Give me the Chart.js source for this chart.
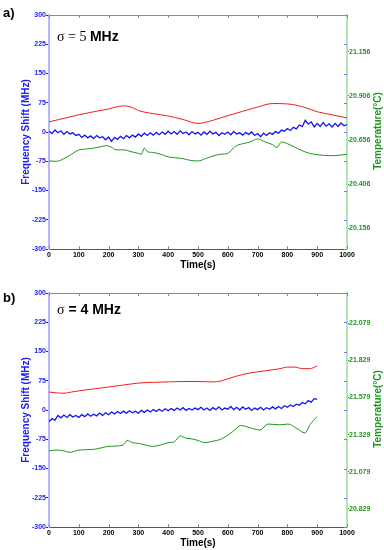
<!DOCTYPE html>
<html>
<head>
<meta charset="utf-8">
<script src="https://cdn.jsdelivr.net/npm/chart.js@4"></script>
<style>
body{margin:0;background:#fff;}
#wrap{position:relative;width:384px;height:550px;font-family:"Liberation Sans",Arial,sans-serif;}
.panel{position:absolute;left:0;width:384px;height:272px;}
.tag{position:absolute;left:3px;font-weight:bold;font-size:13px;line-height:13px;}
.sig{position:absolute;left:57px;font-size:14px;line-height:14px;white-space:nowrap;}
.sig .g{font-family:"Liberation Serif","Times New Roman",serif;}
.sig b{font-family:"Liberation Sans",Arial,sans-serif;}
.ytitle2{position:absolute;left:378px;color:#1e961e;font-weight:bold;font-size:10px;line-height:10px;
  transform:translate(-50%,-50%) rotate(-90deg);white-space:nowrap;}
</style>
</head>
<body>
<div id="wrap">
  <canvas id="chartA" class="panel" style="top:0" width="384" height="272"></canvas>
  <canvas id="chartB" class="panel" style="top:278px" width="384" height="272"></canvas>
  <div class="tag" style="top:6px">a)</div>
  <div class="tag" style="top:291px">b)</div>
  <div class="sig" style="top:29px"><span class="g">σ = 5 </span><b>MHz</b></div>
  <div class="sig" style="top:302px"><span class="g">σ</span><b> = 4 MHz</b></div>
  <div class="ytitle2" style="top:131px">Temperature(°C)</div>
  <div class="ytitle2" style="top:409px">Temperature(°C)</div>
</div>
<script>
// panel a
var tRedA = [0,50,100,150,200,225,250,275,300,350,400,450,500,550,600,650,700,750,800,850,900,950,1000];
var redA  = [26,35,44,52,59,64,67,64,55,47,41,32,22,30,42,53,64,73,72,65,52,44,36];

// blue sampled every 10 s
var blueA = [2,-4,5,-2,3,-6,1,-5,-2,-9,
  -6,-14,-8,-15,-10,-17,-9,-15,-12,-20,
  -13,-24,-14,-19,-11,-17,-9,-15,-8,-13,
  -5,-11,-3,-9,-2,-8,-1,-7,0,-6,
  2,-5,1,-6,3,-4,0,-7,1,-5,
  -1,-8,0,-6,2,-5,-1,-9,-2,-6,
  0,-7,1,-5,-2,-8,-1,-6,0,-9,
  -4,-12,-3,-9,-2,-6,1,-3,5,2,
  9,4,12,8,18,14,30,20,26,13,
  22,14,24,15,21,13,22,14,23,16,19];

var tGreenA = [0,25,50,75,100,125,150,175,190,210,225,250,275,300,310,320,330,350,375,400,425,450,475,500,
  525,550,575,600,625,650,675,700,725,750,765,780,800,825,850,875,900,925,950,975,1000];
var greenA  = [20.537,20.535,20.55,20.575,20.599,20.605,20.61,20.618,20.624,20.615,20.6,20.6,20.59,20.58,20.575,20.61,20.59,20.585,20.575,20.56,20.555,20.55,20.54,20.537,
  20.55,20.565,20.575,20.58,20.62,20.635,20.645,20.662,20.645,20.63,20.614,20.645,20.635,20.615,20.595,20.58,20.573,20.568,20.567,20.57,20.575];
var tempTicksA = [20.156,20.406,20.656,20.906,21.156];

// panel b
var tRedB = [0,25,50,75,100,150,200,250,300,350,400,450,500,550,575,600,625,650,675,700,750,775,800,825,850,875,900];
var redB  = [46,44,43,46,49,54,59,64,69,71,72,73,73,72,74,80,86,91,95,98,103,106,110,110,106,106,113];

var blueB = [-30,-22,-26,-14,-20,-13,-19,-12,-18,-14,
  -19,-12,-17,-10,-16,-11,-15,-8,-14,-7,
  -12,-5,-10,-4,-9,-3,-8,-2,-7,-3,
  -8,-1,-6,0,-5,1,-4,2,-3,3,
  -2,4,-1,5,0,6,-1,4,0,5,
  1,7,0,5,-1,6,1,8,0,5,
  2,9,1,7,0,8,2,6,-1,5,
  1,7,0,6,2,8,3,9,4,11,
  7,13,9,15,12,19,16,24,20,29,27];

var tGreenB = [0,25,50,70,100,150,175,200,250,262,280,300,350,375,400,420,440,460,480,500,523,550,573,600,617,645,675,708,735,775,802,832,859,876,899];
var greenB  = [21.22,21.225,21.22,21.21,21.225,21.23,21.24,21.25,21.26,21.29,21.275,21.27,21.25,21.26,21.275,21.28,21.32,21.305,21.3,21.29,21.275,21.285,21.295,21.325,21.35,21.39,21.375,21.36,21.40,21.395,21.40,21.37,21.34,21.396,21.45];
var tempTicksB = [20.829,21.079,21.329,21.579,21.829,22.079];

var freqTicks = [-300,-225,-150,-75,0,75,150,225,300];
var timeTicks = [0,100,200,300,400,500,600,700,800,900,1000];

var RED = 'rgb(240,30,30)', BLUE = 'rgb(20,20,245)', GREEN = 'rgb(30,150,30)';
var BLUE_TXT = '#1a1aff', GREEN_TXT = '#1e961e';

Chart.defaults.font.family = '"Liberation Sans", Arial, sans-serif';

function pts(t, v) {
  return t.map(function (x, i) { return {x: x, y: v[i]}; });
}

var framePlugin = {
  id: 'frame',
  afterDraw: function (chart) {
    var ctx = chart.ctx, a = chart.chartArea, sx = chart.scales.x, sy = chart.scales.y;
    ctx.save();
    ctx.strokeStyle = '#8a8a8a';
    ctx.lineWidth = 1;
    ctx.beginPath();
    ctx.moveTo(a.left, a.top + 0.5);
    ctx.lineTo(a.right, a.top + 0.5);
    timeTicks.forEach(function (t) {
      var px = Math.round(sx.getPixelForValue(t)) + 0.5;
      ctx.moveTo(px, a.top);
      ctx.lineTo(px, a.top + 3);
      ctx.moveTo(px, a.bottom);
      ctx.lineTo(px, a.bottom - 3);
    });
    ctx.stroke();
    ctx.strokeStyle = '#7a7aff';
    ctx.beginPath();
    freqTicks.forEach(function (v) {
      var py = Math.round(sy.getPixelForValue(v)) + 0.5;
      ctx.moveTo(a.right - 3, py);
      ctx.lineTo(a.right, py);
    });
    ctx.stroke();
    ctx.restore();
  }
};

function buildChart(id, red, blue, green, tMin, tMax, tempTicks) {
  var tickFont = {size: 7, weight: 'bold'};
  return new Chart(document.getElementById(id).getContext('2d'), {
    type: 'line',
    data: {
      datasets: [
        {data: red, borderColor: RED, borderWidth: 1, pointRadius: 0, yAxisID: 'y', cubicInterpolationMode: 'monotone'},
        {data: blue, borderColor: BLUE, borderWidth: 1.3, pointRadius: 0, yAxisID: 'y'},
        {data: green, borderColor: GREEN, borderWidth: 1, pointRadius: 0, yAxisID: 'y1', cubicInterpolationMode: 'monotone'}
      ]
    },
    options: {
      responsive: false,
      animation: false,
      layout: {padding: {top: 15, left: 0, right: 0, bottom: 0}},
      plugins: {legend: {display: false}, tooltip: {enabled: false}},
      scales: {
        x: {
          type: 'linear', position: 'bottom', min: 0, max: 1000,
          afterFit: function (s) { s.height = 23; },
          afterBuildTicks: function (s) { s.ticks = timeTicks.map(function (v) { return {value: v}; }); },
          ticks: {color: '#000', font: tickFont, padding: 2, maxRotation: 0, autoSkip: false,
            callback: function (v) { return String(v); }},
          grid: {drawOnChartArea: false, drawTicks: false},
          border: {color: '#555', width: 1},
          title: {display: true, text: 'Time(s)', color: '#000', font: {size: 10, weight: 'bold'}, padding: {top: 0, bottom: 1}}
        },
        y: {
          position: 'left', min: -300, max: 300,
          afterFit: function (s) { s.width = 49; },
          afterBuildTicks: function (s) { s.ticks = freqTicks.map(function (v) { return {value: v}; }); },
          ticks: {color: BLUE_TXT, font: tickFont, padding: 0},
          grid: {drawOnChartArea: false, drawTicks: true, tickLength: 3, color: BLUE_TXT},
          border: {color: '#b4b8ff', width: 2},
          title: {display: true, text: 'Frequency Shift (MHz)', color: BLUE_TXT, font: {size: 10, weight: 'bold'}, padding: {top: 20, bottom: 0}}
        },
        y1: {
          position: 'right', min: tMin, max: tMax,
          afterFit: function (s) { s.width = 37; },
          afterBuildTicks: function (s) { s.ticks = tempTicks.map(function (v) { return {value: v}; }); },
          ticks: {color: GREEN_TXT, font: tickFont, padding: 0, callback: function (v) { return v.toFixed(3); }},
          grid: {drawOnChartArea: false, drawTicks: true, tickLength: 2, color: GREEN_TXT},
          border: {color: '#b4e4b4', width: 2}
        }
      }
    },
    plugins: [framePlugin]
  });
}

var blueTimeA = blueA.map(function (v, i) { return i * 10; });
var blueTimeB = blueB.map(function (v, i) { return i * 10; });

buildChart('chartA', pts(tRedA, redA), pts(blueTimeA, blueA), pts(tGreenA, greenA), 20.037, 21.366, tempTicksA);
buildChart('chartB', pts(tRedB, redB), pts(blueTimeB, blueB), pts(tGreenB, greenB), 20.708, 22.281, tempTicksB);
</script>
</body>
</html>
